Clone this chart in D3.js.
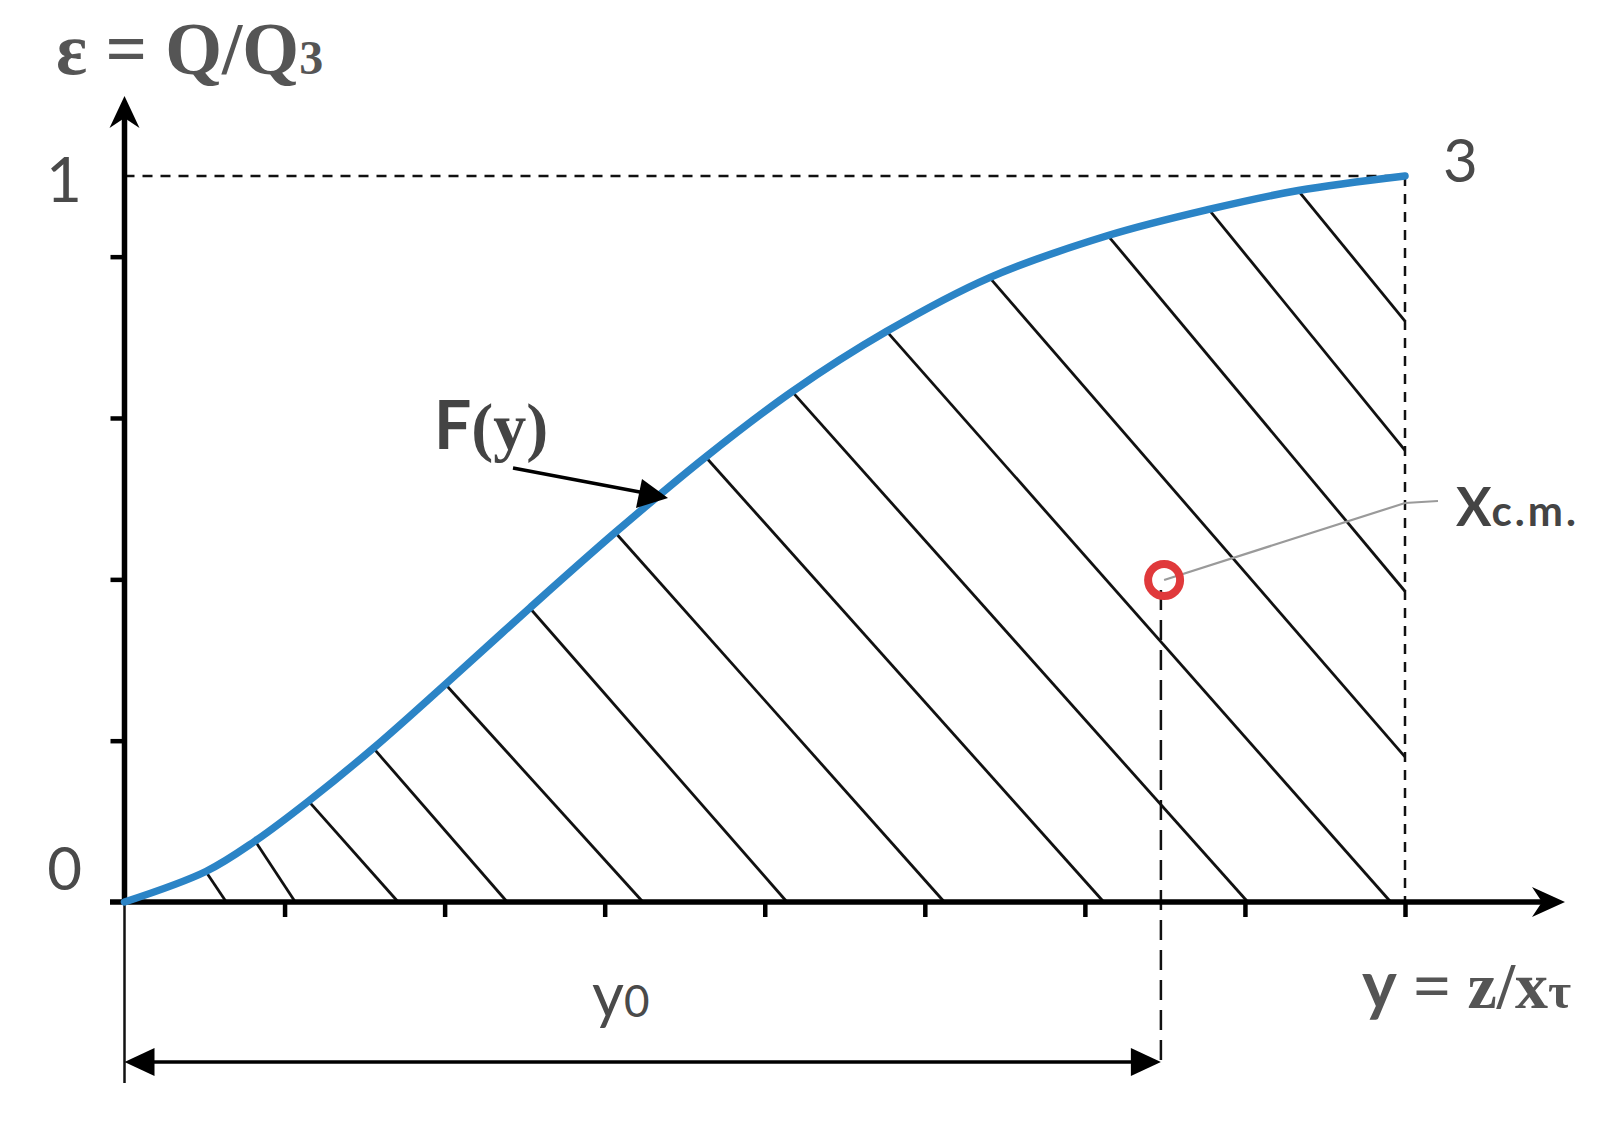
<!DOCTYPE html>
<html><head><meta charset="utf-8">
<script src="https://cdn.jsdelivr.net/npm/d3@7"></script>
<style>body{margin:0;background:#fff}svg{display:block}</style>
</head><body>
<script>
// ---- data ----
const curveX = [0, 0.508, 0.816, 1.150, 1.555, 2.005, 2.532, 3.066, 3.631, 4.171, 4.762, 5.405, 6.144, 6.774, 7.333, 8.0];
const curveY = [0, 0.042, 0.084, 0.139, 0.212, 0.300, 0.405, 0.509, 0.613, 0.703, 0.786, 0.860, 0.918, 0.954, 0.980, 1.0];
const hatchEndX = [0.636, 1.067, 1.710, 2.391, 3.239, 4.139, 5.122, 6.118, 7.018, 7.911, 8, 8, 8, 8];
const hatchEndY = [0, 0, 0, 0, 0, 0, 0, 0, 0, 0, 0.200, 0.428, 0.622, 0.800];
const xTicks = [1, 2, 3, 4, 5, 6, 7, 8];
const yTicks = [0.2222, 0.4444, 0.6667, 0.8889];
const xEnd = 8, yTop = 1;
const y0Value = 6.475;
const cmPoint = [6.495, 0.4435];
const yLabels = ["0", "1"];
const pointLabel = "3";

const W = 1613, H = 1131;
const svg = d3.select("body").append("svg").attr("width", W).attr("height", H);
const x = d3.scaleLinear().domain([0, 8]).range([124.5, 1405]);
const y = d3.scaleLinear().domain([0, 1]).range([902, 176]);

// hatch lines
const hatch = svg.append("g").attr("stroke", "#111").attr("stroke-width", 2.8);
hatchEndX.forEach((ex, i) => {
  hatch.append("line")
    .attr("x1", x(curveX[i + 1])).attr("y1", y(curveY[i + 1]))
    .attr("x2", x(ex)).attr("y2", y(hatchEndY[i]));
});

// dashed guides
svg.append("line").attr("x1", x(0)).attr("x2", x(xEnd)).attr("y1", y(yTop)).attr("y2", y(yTop))
  .attr("stroke", "#111").attr("stroke-width", 2.5).attr("stroke-dasharray", "10,8");
svg.append("line").attr("x1", x(xEnd)).attr("x2", x(xEnd)).attr("y1", y(yTop)).attr("y2", y(0))
  .attr("stroke", "#111").attr("stroke-width", 2.5).attr("stroke-dasharray", "10,8");
svg.append("line").attr("x1", x(y0Value)).attr("x2", x(y0Value)).attr("y1", y(cmPoint[1]) + 10).attr("y2", 1062)
  .attr("stroke", "#111").attr("stroke-width", 2.5).attr("stroke-dasharray", "20,10");

// thin line below origin
svg.append("line").attr("x1", x(0)).attr("x2", x(0)).attr("y1", y(0)).attr("y2", 1083)
  .attr("stroke", "#111").attr("stroke-width", 2.5);

// axes ticks
const gx = svg.append("g").attr("transform", `translate(0,${y(0)})`)
  .call(d3.axisBottom(x).tickValues(xTicks).tickSize(15).tickFormat(""));
gx.select(".domain").remove();
gx.selectAll(".tick line").attr("stroke", "#000").attr("stroke-width", 4.5);
const gy = svg.append("g").attr("transform", `translate(${x(0)},0)`)
  .call(d3.axisLeft(y).tickValues(yTicks).tickSize(14).tickFormat(""));
gy.select(".domain").remove();
gy.selectAll(".tick line").attr("stroke", "#000").attr("stroke-width", 4.5);

// axis lines
svg.append("line").attr("x1", 110).attr("x2", 1555).attr("y1", y(0)).attr("y2", y(0))
  .attr("stroke", "#000").attr("stroke-width", 5.5);
svg.append("line").attr("x1", x(0)).attr("x2", x(0)).attr("y1", y(0) + 2).attr("y2", 104)
  .attr("stroke", "#000").attr("stroke-width", 5.5);
// arrowheads
const yA = x(0);
svg.append("path").attr("d", `M${yA},96 L${yA + 15},128 L${yA},118 L${yA - 15},128 Z`).attr("fill", "#000");
const xA = 1565, xy = y(0);
svg.append("path").attr("d", `M${xA},${xy} L${xA - 33},${xy - 15} L${xA - 23},${xy} L${xA - 33},${xy + 15} Z`).attr("fill", "#000");

// curve
const line = d3.line().x(d => x(d[0])).y(d => y(d[1])).curve(d3.curveCatmullRom.alpha(0.5));
svg.append("path").datum(curveX.map((v, i) => [v, curveY[i]]))
  .attr("d", line).attr("fill", "none").attr("stroke", "#2b84c6").attr("stroke-width", 7.5)
  .attr("stroke-linecap", "round");

// leader line to Xc.m.
svg.append("polyline").attr("points", `${x(cmPoint[0])},${y(cmPoint[1])} 1405,503 1438,501`)
  .attr("fill", "none").attr("stroke", "#9a9a9a").attr("stroke-width", 2.2);
// center of mass marker
svg.append("circle").attr("cx", x(cmPoint[0])).attr("cy", y(cmPoint[1])).attr("r", 16)
  .attr("fill", "none").attr("stroke", "#e0393b").attr("stroke-width", 8);

// F(y) arrow
svg.append("line").attr("x1", 513).attr("y1", 468).attr("x2", 645).attr("y2", 493)
  .attr("stroke", "#000").attr("stroke-width", 3.5);
svg.append("path").attr("d", "M668,498 L636,508 L642,479 Z").attr("fill", "#000");

// y0 double arrow
svg.append("line").attr("x1", x(0) + 10).attr("x2", x(y0Value) - 10).attr("y1", 1062).attr("y2", 1062)
  .attr("stroke", "#000").attr("stroke-width", 3.5);
svg.append("path").attr("d", `M${x(0)},1062 L${x(0) + 30},1048 L${x(0) + 30},1076 Z`).attr("fill", "#000");
svg.append("path").attr("d", `M${x(y0Value)},1062 L${x(y0Value) - 30},1048 L${x(y0Value) - 30},1076 Z`).attr("fill", "#000");

// texts
const sans = "Lato, 'Open Sans', sans-serif";
const serif = "'Liberation Serif', 'DejaVu Serif', serif";
svg.append("text").attr("x", 82).attr("y", 202).attr("text-anchor", "end")
  .attr("font-family", sans).attr("font-size", 62).attr("fill", "#4a4a4a").text(yLabels[1]);
svg.append("text").attr("x", 82).attr("y", 890).attr("text-anchor", "end")
  .attr("font-family", sans).attr("font-size", 60).attr("fill", "#4a4a4a").text(yLabels[0]);
svg.append("text").attr("x", 1443).attr("y", 182)
  .attr("font-family", sans).attr("font-size", 60).attr("fill", "#4a4a4a").text(pointLabel);

const t1 = svg.append("text").attr("x", 56).attr("y", 74).attr("font-family", serif)
  .attr("font-weight", "bold").attr("fill", "#555").attr("font-size", 73);
t1.append("tspan").text("ε = Q/Q");
t1.append("tspan").attr("font-size", 48).text("3");

const t2 = svg.append("text").attr("x", 1362).attr("y", 1008).attr("font-weight", "bold")
  .attr("fill", "#555").attr("font-size", 66);
t2.append("tspan").attr("font-family", sans).text("y");
t2.append("tspan").attr("font-family", serif).text(" = z/x");
t2.append("tspan").attr("font-family", serif).attr("font-size", 50).text("τ");

const t3 = svg.append("text").attr("x", 434).attr("y", 449).attr("font-weight", "bold")
  .attr("fill", "#444").attr("font-size", 66);
t3.append("tspan").attr("font-family", sans).text("F");
t3.append("tspan").attr("font-family", serif).text("(y)");

const t4 = svg.append("text").attr("x", 1456).attr("y", 526).attr("font-weight", "bold")
  .attr("fill", "#444").attr("font-family", sans);
t4.append("tspan").attr("font-size", 53).text("X");
t4.append("tspan").attr("font-size", 42).attr("letter-spacing", 3).text("c.m.");

const t5 = svg.append("text").attr("x", 592).attr("y", 1017)
  .attr("fill", "#4a4a4a").attr("font-family", sans);
t5.append("tspan").attr("font-size", 62).text("y");
t5.append("tspan").attr("font-size", 44).text("0");
</script>
</body></html>
